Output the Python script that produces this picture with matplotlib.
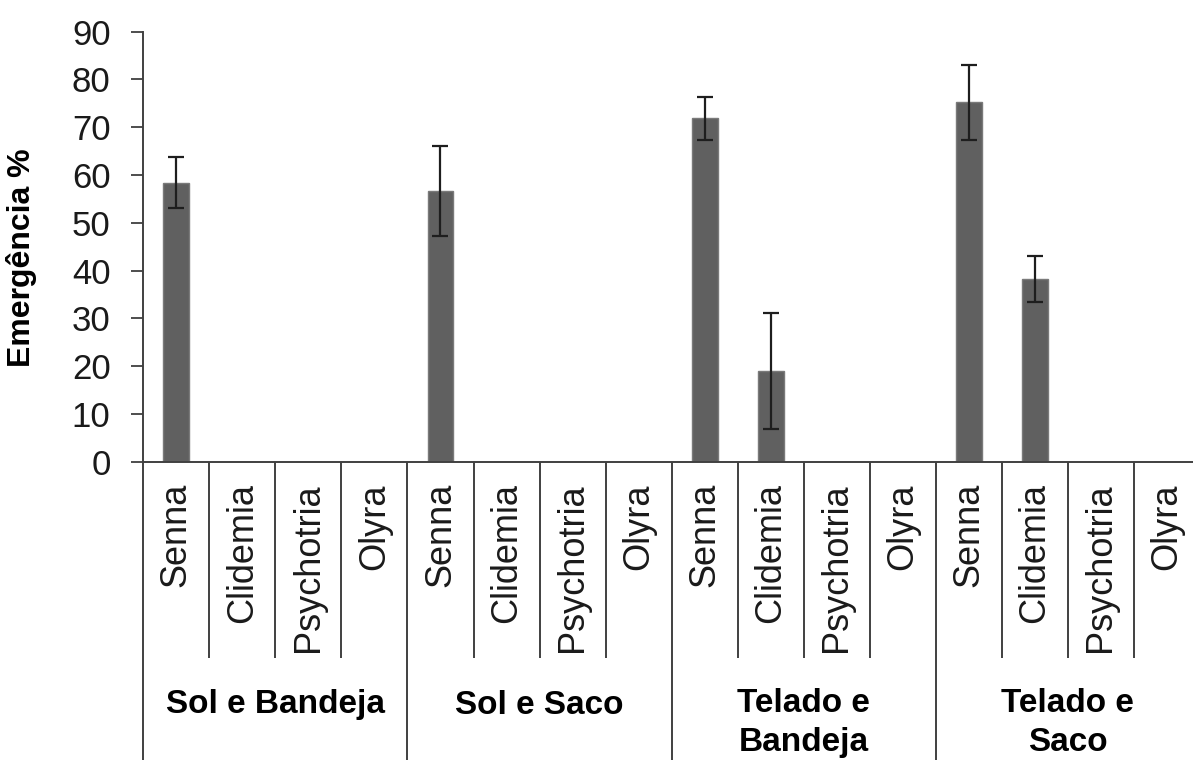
import matplotlib
matplotlib.use("Agg")
import matplotlib.pyplot as plt
import matplotlib.transforms as mtransforms
import numpy as np

# ---- data ----
species = ["Senna", "Clidemia", "Psychotria", "Olyra"]
groups = ["Sol e Bandeja", "Sol e Saco", "Telado e\nBandeja", "Telado e\nSaco"]
categories = species * len(groups)
values = [58.4, 0, 0, 0,
          56.6, 0, 0, 0,
          71.9, 19.0, 0, 0,
          75.2, 38.2, 0, 0]
errors = [5.4, 0, 0, 0,
          9.4, 0, 0, 0,
          4.5, 12.2, 0, 0,
          7.8, 4.8, 0, 0]
yticks = [0, 10, 20, 30, 40, 50, 60, 70, 80, 90]
ylabel = "Emergência %"

plt.rcParams['font.family'] = ['Liberation Sans', 'DejaVu Sans']

W, H = 1193, 760
fig = plt.figure(figsize=(W / 100, H / 100), dpi=100)
ax_left, ax_right = 143.3 / W, 1200 / W
ax_bottom, ax_top = (H - 461.7) / H, (H - 31.7) / H
ax = fig.add_axes([ax_left, ax_bottom, ax_right - ax_left, ax_top - ax_bottom])

n = len(categories)
x = np.arange(n) + 0.5
ax.bar(x, values, width=0.39, color="#606060", edgecolor="#7a7a7a", linewidth=1.0, zorder=2)

vals = np.array(values)
errs = np.array(errors)
mask = errs > 0
ax.errorbar(x[mask], vals[mask], yerr=errs[mask], fmt="none", ecolor="#1e1e1e",
            elinewidth=1.6, capsize=5.8, capthick=1.6, zorder=3)

ax.set_xlim(0, n)
ax.set_ylim(0, 90)
ax.set_yticks(yticks)
ax.set_yticklabels([str(v) for v in yticks], fontsize=25, color="#1a1a1a")
ax.tick_params(axis="y", direction="out", length=8.6, width=1.3, color="#404040", pad=15)
ax.set_xticks([])
for s in ["top", "right"]:
    ax.spines[s].set_visible(False)
ax.spines["left"].set_color("#404040")
ax.spines["left"].set_linewidth(1.4)
ax.spines["bottom"].set_color("#404040")
ax.spines["bottom"].set_linewidth(1.4)

ax_h_px = 430.0
def yfrac(py):
    return -(py - 461.7) / ax_h_px

trans = mtransforms.blended_transform_factory(ax.transData, ax.transAxes)

# separators below axis
for i in range(n + 1):
    if i % 4 == 0:
        y_end = yfrac(H + 5)
    else:
        y_end = yfrac(657.5)
    ax.plot([i, i], [0, y_end], transform=trans, color="#404040", lw=1.4,
            clip_on=False, solid_capstyle="butt")

# category labels
for xi, lab in zip(x, categories):
    ax.text(xi, yfrac(483), lab, transform=trans, rotation=90, ha="center", va="top",
            fontsize=26, color="#1a1a1a")

# group labels
for gi, g in enumerate(groups):
    xc = gi * 4 + 2
    if "\n" in g:
        ax.text(xc, yfrac(723), g, transform=trans, ha="center", va="center",
                fontsize=24, fontweight="bold", linespacing=1.32, color="black")
    else:
        ax.text(xc, yfrac(705), g, transform=trans, ha="center", va="center",
                fontsize=24, fontweight="bold", color="black")

fig.text(22 / W, 1 - 258 / H, ylabel, rotation=90, ha="center", va="center",
         fontsize=23, fontweight="bold", color="black")

fig.savefig("out.png", dpi=100, facecolor="white")
